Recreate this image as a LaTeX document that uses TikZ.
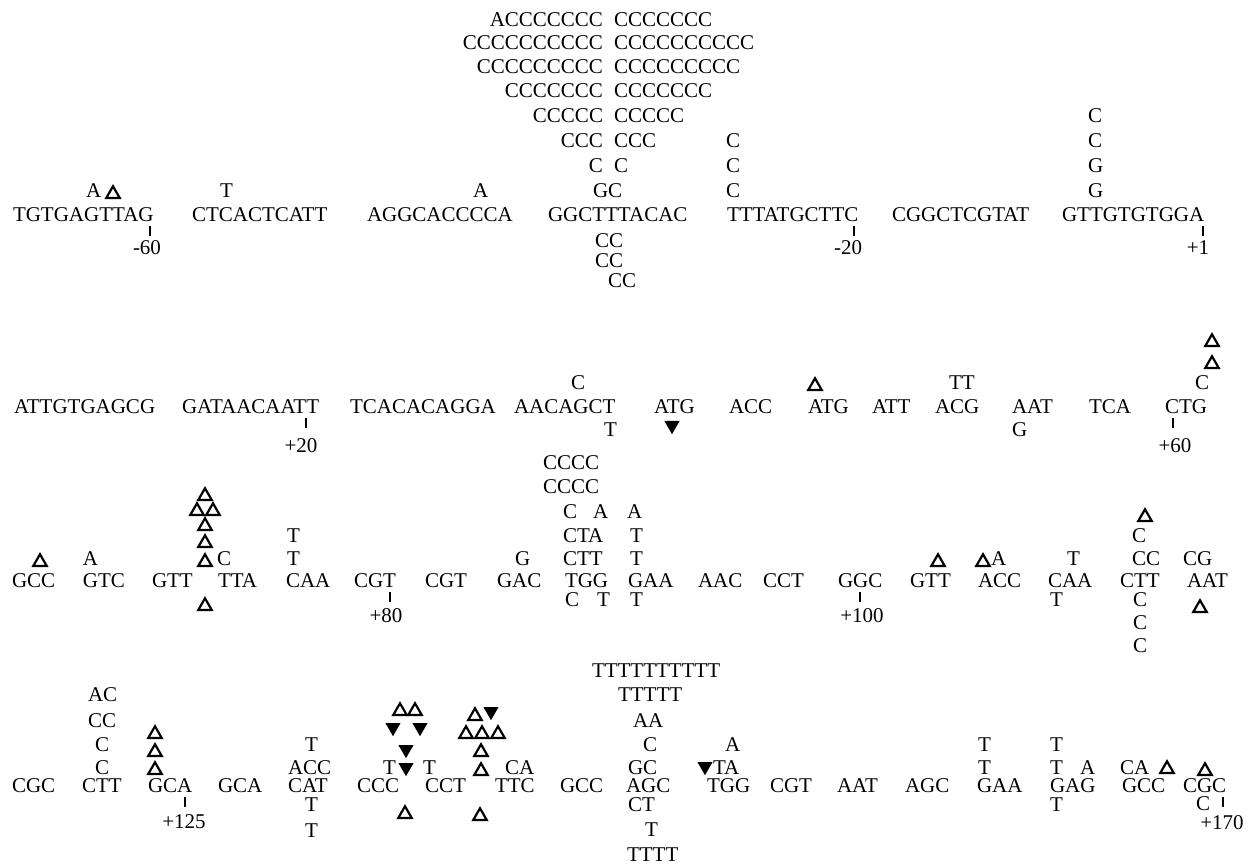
\documentclass[tikz,border=0pt]{standalone}
\usepackage{fontspec}
\setmainfont{Liberation Serif}
\usetikzlibrary{shapes.geometric}

\begin{document}
\begin{tikzpicture}[% one unit is one pixel of the scan, y runs downwards
			x=0.5pt,y=-0.5pt,
			every node/.style={
				inner sep=0pt,outer sep=0pt,
				anchor=base west,	% coordinate = left end of the baseline
				font=\fontsize{10.5}{12}\selectfont
			},
			rgt/.style={anchor=base east},	% left half of the C funnel
			num/.style={anchor=base},	% position numbers
			del/.style={regular polygon,regular polygon sides=3,draw,line width=1.1pt,minimum size=7.8pt,anchor=south},	% open triangle
			ins/.style={regular polygon,regular polygon sides=3,shape border rotate=180,fill=black,minimum size=8.8pt,anchor=north},	% filled triangle
			tick/.style={draw,line width=0.7pt}
		]
		\useasboundingbox (0,0) rectangle (1248,865);
		% row 1
		\node(S1) at (13,222) {TGTGAGTTAG};
		\node(S2) at (192,222) {CTCACTCATT};
		\node(S3) at (367,222) {AGGCACCCCA};
		\node(S4) at (548,222) {GGCTTTACAC};
		\node(S5) at (727,222) {TTTATGCTTC};
		\node(S6) at (892,222) {CGGCTCGTAT};
		\node(S7) at (1062,222) {GTTGTGTGGA};
		\node(U1) at (86,198) {A};
		\node[del](U2) at (113,198) {};
		\node(U3) at (220,198) {T};
		\node(U4) at (473,198) {A};
		\node(U5) at (593,198) {GC};
		\node[rgt](FL1) at (603,173) {C};
		\node(FR1) at (614,173) {C};
		\node[rgt](FL2) at (603,148) {CCC};
		\node(FR2) at (614,148) {CCC};
		\node[rgt](FL3) at (603,123) {CCCCC};
		\node(FR3) at (614,123) {CCCCC};
		\node[rgt](FL4) at (603,98) {CCCCCCC};
		\node(FR4) at (614,98) {CCCCCCC};
		\node[rgt](FL5) at (603,74) {CCCCCCCCC};
		\node(FR5) at (614,74) {CCCCCCCCC};
		\node[rgt](FL6) at (603,50) {CCCCCCCCCC};
		\node(FR6) at (614,50) {CCCCCCCCCC};
		\node[rgt](FL7) at (603,27) {ACCCCCCC};
		\node(FR7) at (614,27) {CCCCCCC};
		\node(U6) at (726,198) {C};
		\node(U7) at (726,173) {C};
		\node(U8) at (726,148) {C};
		\node(U9) at (1088,198) {G};
		\node(U10) at (1088,173) {G};
		\node(U11) at (1088,148) {C};
		\node(U12) at (1088,123) {C};
		\node(L1) at (595,248) {CC};
		\node(L2) at (595,268) {CC};
		\node(L3) at (608,288) {CC};
		\coordinate(K1) at (150,226);
		\coordinate(K2) at (854,226);
		\coordinate(K3) at (1203,226);
		\node[num](N1) at (147,255) {-60};
		\node[num](N2) at (848,255) {-20};
		\node[num](N3) at (1198,255) {+1};
		\draw[tick] (K1) -- ++(0,10);
		\draw[tick] (K2) -- ++(0,10);
		\draw[tick] (K3) -- ++(0,10);
		% row 2
		\node(M1) at (14,414) {ATTGTGAGCG};
		\node(M2) at (182,414) {GATAACAATT};
		\node(M3) at (350,414) {TCACACAGGA};
		\node(M4) at (514,414) {AACAGCT};
		\node(M5) at (654,414) {ATG};
		\node(M6) at (729,414) {ACC};
		\node(M7) at (808,414) {ATG};
		\node(M8) at (872,414) {ATT};
		\node(M9) at (935,414) {ACG};
		\node(M10) at (1012,414) {AAT};
		\node(M11) at (1089,414) {TCA};
		\node(M12) at (1165,414) {CTG};
		\node(V1) at (571,390) {C};
		\node[del](V2) at (815,390) {};
		\node(V3) at (949,390) {TT};
		\node(V4) at (1195,390) {C};
		\node[del](V5) at (1212,368) {};
		\node[del](V6) at (1212,346) {};
		\node(W1) at (604,437) {T};
		\node[ins](W2) at (672,421) {};
		\node(W3) at (1012,437) {G};
		\coordinate(K4) at (306,418);
		\coordinate(K5) at (1173,418);
		\node[num](N4) at (301,453) {+20};
		\node[num](N5) at (1175,453) {+60};
		\draw[tick] (K4) -- ++(0,10);
		\draw[tick] (K5) -- ++(0,10);
		% row 3
		\node(C1) at (12,588) {GCC};
		\node(C2) at (83,588) {GTC};
		\node(C3) at (152,588) {GTT};
		\node(C4) at (218,588) {TTA};
		\node(C5) at (286,588) {CAA};
		\node(C6) at (354,588) {CGT};
		\node(C7) at (425,588) {CGT};
		\node(C8) at (497,588) {GAC};
		\node(C9) at (565,588) {TGG};
		\node(C10) at (628,588) {GAA};
		\node(C11) at (698,588) {AAC};
		\node(C12) at (763,588) {CCT};
		\node(C13) at (838,588) {GGC};
		\node(C14) at (910,588) {GTT};
		\node(C15) at (978,588) {ACC};
		\node(C16) at (1048,588) {CAA};
		\node(C17) at (1120,588) {CTT};
		\node(C18) at (1187,588) {AAT};
		\node[del](A1) at (40,566) {};
		\node(A2) at (83,566) {A};
		\node[del](A3) at (205,566) {};
		\node(A4) at (217,566) {C};
		\node[del](A5) at (205,547) {};
		\node[del](A6) at (205,530) {};
		\node[del](A7) at (197,515) {};
		\node[del](A8) at (213,515) {};
		\node[del](A9) at (205,500) {};
		\node(A10) at (287,566) {T};
		\node(A11) at (287,543) {T};
		\node(A12) at (515,566) {G};
		\node(A13) at (563,566) {CTT};
		\node(A14) at (630,566) {T};
		\node(A15) at (563,543) {CTA};
		\node(A16) at (630,543) {T};
		\node(A17) at (563,519) {C};
		\node(A18) at (593,519) {A};
		\node(A19) at (627,519) {A};
		\node(A20) at (543,494) {CCCC};
		\node(A21) at (543,470) {CCCC};
		\node[del](A22) at (938,566) {};
		\node[del](A23) at (983,566) {};
		\node(A24) at (991,566) {A};
		\node(A25) at (1067,566) {T};
		\node(A26) at (1132,566) {CC};
		\node(A27) at (1132,543) {C};
		\node[del](A28) at (1145,521) {};
		\node(A29) at (1183,566) {CG};
		\node[del](B1) at (205,610) {};
		\node(B2) at (565,607) {C};
		\node(B3) at (597,607) {T};
		\node(B4) at (630,607) {T};
		\node(B5) at (1050,607) {T};
		\node(B6) at (1133,607) {C};
		\node(B7) at (1133,630) {C};
		\node(B8) at (1133,653) {C};
		\node[del](B9) at (1200,612) {};
		\coordinate(K6) at (390,592);
		\coordinate(K7) at (860,592);
		\node[num](N6) at (386,623) {+80};
		\node[num](N7) at (862,623) {+100};
		\draw[tick] (K6) -- ++(0,10);
		\draw[tick] (K7) -- ++(0,10);
		% row 4
		\node(D1) at (12,792) {CGC};
		\node(D2) at (82,792) {CTT};
		\node(D3) at (148,792) {GCA};
		\node(D4) at (218,792) {GCA};
		\node(D5) at (288,792) {CAT};
		\node(D6) at (357,792) {CCC};
		\node(D7) at (425,792) {CCT};
		\node(D8) at (495,792) {TTC};
		\node(D9) at (560,792) {GCC};
		\node(D10) at (626,792) {AGC};
		\node(D11) at (707,792) {TGG};
		\node(D12) at (770,792) {CGT};
		\node(D13) at (837,792) {AAT};
		\node(D14) at (905,792) {AGC};
		\node(D15) at (977,792) {GAA};
		\node(D16) at (1050,792) {GAG};
		\node(D17) at (1122,792) {GCC};
		\node(D18) at (1183,792) {CGC};
		\node(E1) at (95,774) {C};
		\node(E2) at (95,751) {C};
		\node(E3) at (88,727) {CC};
		\node(E4) at (88,702) {AC};
		\node[del](E5) at (155,774) {};
		\node[del](E6) at (155,756) {};
		\node[del](E7) at (155,738) {};
		\node(E8) at (288,774) {ACC};
		\node(E9) at (305,751) {T};
		\node(E10) at (383,774) {T};
		\node[ins](E11) at (406,763) {};
		\node(E12) at (423,774) {T};
		\node[ins](E13) at (406,745) {};
		\node[ins](E14) at (393,723) {};
		\node[ins](E15) at (420,723) {};
		\node[del](E16) at (400,715) {};
		\node[del](E17) at (415,715) {};
		\node[del](E18) at (481,775) {};
		\node(E19) at (505,774) {CA};
		\node[del](E20) at (481,756) {};
		\node[del](E21) at (466,738) {};
		\node[del](E22) at (482,738) {};
		\node[del](E23) at (498,738) {};
		\node[del](E24) at (475,720) {};
		\node[ins](E25) at (491,707) {};
		\node(E26) at (628,774) {GC};
		\node(E27) at (643,751) {C};
		\node(E28) at (633,727) {AA};
		\node(E29) at (618,702) {TTTTT};
		\node(E30) at (592,678) {TTTTTTTTTT};
		\node[ins](E31) at (705,762) {};
		\node(E32) at (713,774) {TA};
		\node(E33) at (725,751) {A};
		\node(E34) at (978,774) {T};
		\node(E35) at (978,751) {T};
		\node(E36) at (1050,774) {T};
		\node(E37) at (1050,751) {T};
		\node(E38) at (1080,774) {A};
		\node(E39) at (1120,774) {CA};
		\node[del](E40) at (1167,773) {};
		\node[del](E41) at (1205,775) {};
		\node(F1) at (305,811) {T};
		\node(F2) at (305,837) {T};
		\node[del](F3) at (405,818) {};
		\node[del](F4) at (480,820) {};
		\node(F5) at (628,811) {CT};
		\node(F6) at (645,836) {T};
		\node(F7) at (627,861) {TTTT};
		\node(F8) at (1050,811) {T};
		\node(F9) at (1196,810) {C};
		\coordinate(K8) at (185,797);
		\coordinate(K9) at (1223,797);
		\node[num](N8) at (184,828) {+125};
		\node[num](N9) at (1222,829) {+170};
		\draw[tick] (K8) -- ++(0,10);
		\draw[tick] (K9) -- ++(0,10);
	\end{tikzpicture}
\end{document}
